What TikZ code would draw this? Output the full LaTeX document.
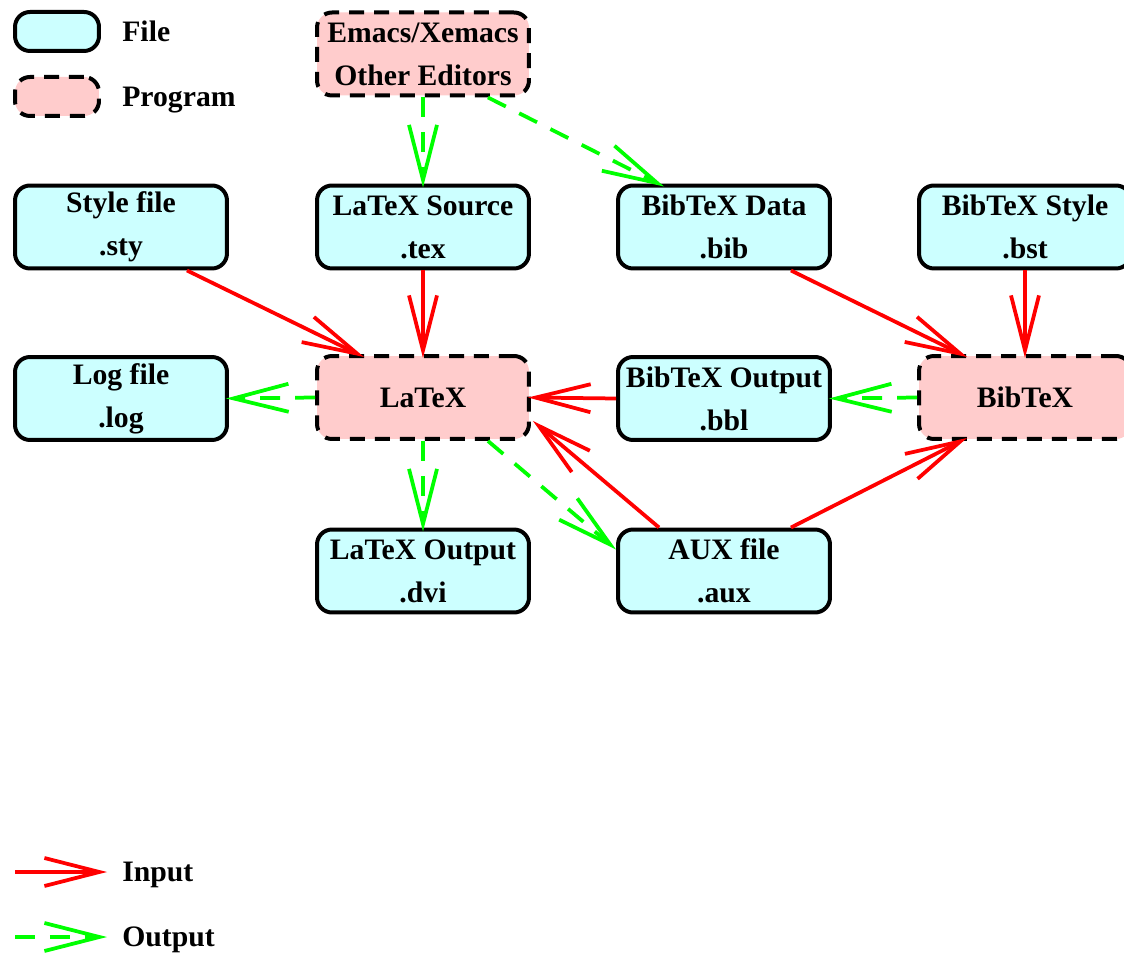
\documentclass[tikz,border=0pt]{standalone}
\usepackage{fontspec}
\setmainfont{Liberation Serif}
\usetikzlibrary{arrows.meta,calc}
\definecolor{filec}{HTML}{CCFFFF}
\definecolor{progc}{HTML}{FFCCCC}
\definecolor{inred}{HTML}{FF0000}
\definecolor{outgreen}{HTML}{00FF00}
\begin{document}
\begin{tikzpicture}[x=0.02cm,y=-0.02cm,
  box/.style={rectangle, rounded corners=0.3cm, line width=0.08cm, minimum width=4.24cm, minimum height=1.66cm, inner sep=0pt, align=center, font=\fontsize{16.9}{24.5}\selectfont\bfseries},
  filebox/.style={box, draw=black, fill=filec},
  progbox/.style={box, draw=black, fill=progc, dash pattern=on 0.3cm off 0.2cm},
  legbox/.style={minimum width=1.68cm, minimum height=0.78cm},
  lbl/.style={anchor=base west, inner sep=0pt, font=\fontsize{16.9}{24.5}\selectfont\bfseries},
  tipv/.style={-{Straight Barb[length=1.1cm,width=0.56cm]}},
  inarr/.style={draw=inred, line width=0.075cm, tipv},
  outarr/.style={draw=outgreen, line width=0.075cm, dash pattern=on 0.4cm off 0.3cm, tipv},
]
\useasboundingbox (0,0) rectangle (1124,955);
\clip (0,0) rectangle (1124,955);

% legend
\node[filebox, legbox] (lfile) at (57,31.5) {};
\node[progbox, legbox] (lprog) at (57,96.5) {};
\node[lbl] (tfile) at (122,42) {File};
\node[lbl] (tprog) at (122,107) {Program};
\coordinate (i1) at (15,872);
\coordinate (i2) at (107,872);
\coordinate (o1) at (15,937);
\coordinate (o2) at (107,937);
\node[lbl] (tin) at (122,881) {Input};
\node[lbl] (tout) at (122,946) {Output};

% nodes
\node[progbox] (emacs) at (423,54) {Emacs/Xemacs\\Other Editors};
\node[filebox] (sty) at (121,227) {Style file\\.sty};
\node[filebox] (tex) at (423,227) {LaTeX Source\\.tex};
\node[filebox] (bib) at (724,227) {BibTeX Data\\.bib};
\node[filebox] (bst) at (1025,227) {BibTeX Style\\.bst};
\node[filebox] (log) at (121,398.5) {Log file\\.log};
\node[progbox] (latex) at (423,397.5) {LaTeX};
\node[filebox] (bbl) at (724,398.5) {BibTeX Output\\.bbl};
\node[progbox] (bibtex) at (1025,397.5) {BibTeX};
\node[filebox] (dvi) at (423,571) {LaTeX Output\\.dvi};
\node[filebox] (aux) at (724,571) {AUX file\\.aux};

% connectors
\draw[outarr] (emacs.south) -- ($(tex.north)+(0,4)$);
\draw[outarr] ($(emacs.south east)+(-43,0)$) -- ($(bib.north west)+(48,3)$);
\draw[inarr] ($(sty.south east)+(-42,0)$) -- ($(latex.north west)+(49,3)$);
\draw[inarr] (tex.south) -- ($(latex.north)+(0,4)$);
\draw[inarr] ($(bib.south east)+(-41,0)$) -- ($(bibtex.north west)+(50,3)$);
\draw[inarr] (bst.south) -- ($(bibtex.north)+(0,4)$);
\draw[outarr] (latex.west) -- ($(log.east)+(-3,0)$);
\draw[inarr] (bbl.west) -- ($(latex.east)+(-3,0)$);
\draw[outarr] (bibtex.west) -- ($(bbl.east)+(-3,0)$);
\draw[outarr] (latex.south) -- ($(dvi.north)+(0,4)$);
\draw[outarr] ($(latex.south east)+(-43,0)$) -- ($(aux.north west)+(0,22)$);
\draw[inarr] ($(aux.north west)+(43,0)$) -- ($(latex.south east)+(2,-20)$);
\draw[inarr] ($(aux.north east)+(-41,0)$) -- ($(bibtex.south west)+(50,-3)$);

% legend arrows
\draw[inarr] (i1) -- (i2);
\draw[outarr] (o1) -- (o2);
\end{tikzpicture}
\end{document}
